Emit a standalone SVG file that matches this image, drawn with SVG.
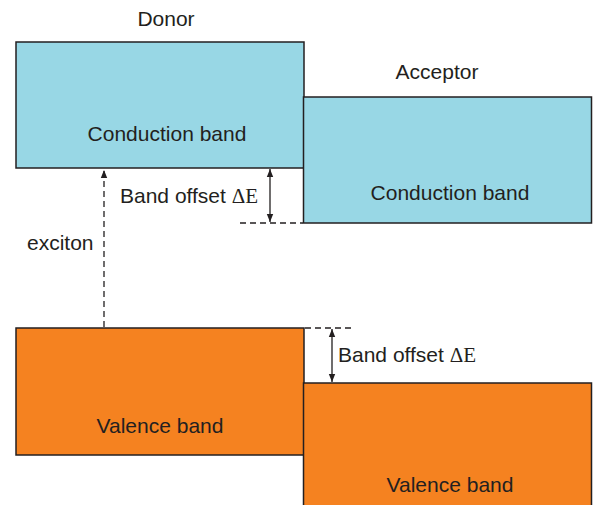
<svg xmlns="http://www.w3.org/2000/svg" width="595" height="505" viewBox="0 0 595 505">
<style>
text{font-family:"Liberation Sans",Arial,sans-serif;font-size:21px;fill:#231f20}
.d{font-family:"Liberation Serif","Times New Roman",serif}
.cb{fill:#98d7e5;stroke:#231f20;stroke-width:1.5}
.vb{fill:#f58220;stroke:#231f20;stroke-width:1.5}
.ln{stroke:#231f20;stroke-width:1.3;fill:none}
.dash{stroke-dasharray:6,4}
</style>
<defs>
<marker id="ah" viewBox="0 0 10 10" refX="10" refY="5" markerWidth="8" markerHeight="8" markerUnits="userSpaceOnUse" orient="auto-start-reverse">
<path d="M0,1 L10,5 L0,9 Z" fill="#231f20"/>
</marker>
</defs>
<text x="166" y="26" text-anchor="middle">Donor</text>
<text x="437" y="79" text-anchor="middle">Acceptor</text>
<g id="donor-cb"><rect class="cb" x="16" y="42" width="288" height="126"/><text x="167" y="141" text-anchor="middle">Conduction band</text></g>
<g id="acceptor-cb"><rect class="cb" x="303.5" y="97" width="288" height="126"/><text x="450" y="200" text-anchor="middle">Conduction band</text></g>
<g id="donor-vb"><rect class="vb" x="16" y="328" width="288" height="127"/><text x="160" y="433" text-anchor="middle">Valence band</text></g>
<g id="acceptor-vb"><rect class="vb" x="303.5" y="383" width="288" height="130"/><text x="450" y="492" text-anchor="middle">Valence band</text></g>
<g id="connectors">
<line class="ln dash" x1="104" y1="327" x2="104" y2="170" marker-end="url(#ah)"/>
<line class="ln dash" x1="240" y1="223" x2="303" y2="223"/>
<line class="ln" x1="270" y1="169" x2="270" y2="222" marker-start="url(#ah)" marker-end="url(#ah)"/>
<line class="ln dash" x1="305" y1="328" x2="353" y2="328"/>
<line class="ln" x1="332" y1="329" x2="332" y2="382" marker-start="url(#ah)" marker-end="url(#ah)"/>
</g>
<text x="120" y="203">Band offset <tspan class="d">ΔE</tspan></text>
<text x="27" y="250">exciton</text>
<text x="338" y="362">Band offset <tspan class="d">ΔE</tspan></text>
</svg>
